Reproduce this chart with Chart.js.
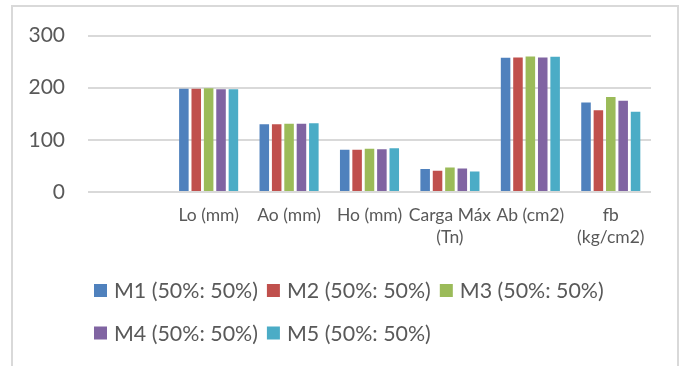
<!DOCTYPE html>
<html>
<head>
<meta charset="utf-8">
<script src="https://cdn.jsdelivr.net/npm/chart.js@4.4.1/dist/chart.umd.min.js"></script>
<style>
html,body{margin:0;padding:0;background:#ffffff;}
#wrap{width:682px;height:366px;position:relative;overflow:hidden;}
</style>
</head>
<body>
<div id="wrap"><canvas id="c" width="682" height="366"></canvas></div>
<script>
// ---- data ----
const categories = ["", "Lo (mm)", "Ao (mm)", "Ho (mm)", ["Carga Máx", "(Tn)"], "Ab (cm2)", ["fb", "(kg/cm2)"]];
const seriesNames = ["M1 (50%: 50%)", "M2 (50%: 50%)", "M3 (50%: 50%)", "M4 (50%: 50%)", "M5 (50%: 50%)"];
const m1 = [null, 198, 130, 81, 44, 257.5, 171.5];
const m2 = [null, 198, 130, 81, 41, 258, 157];
const m3 = [null, 199, 131, 83, 47, 260, 182];
const m4 = [null, 197, 131, 82, 45, 258, 175];
const m5 = [null, 197, 132, 84, 39.5, 259.5, 154];
const yTicks = [0, 100, 200, 300];

const colors = ["#4F81BD", "#C0504D", "#9BBB59", "#8064A2", "#4BACC6"];
const seriesValues = [m1, m2, m3, m4, m5];
const FONT = "Lato, 'Open Sans', sans-serif";
const TEXT = "#595959";

const borderPlugin = {
  id: "frame",
  beforeDraw(chart) {
    const ctx = chart.ctx;
    ctx.save();
    ctx.fillStyle = "#ffffff";
    ctx.fillRect(0, 0, chart.width, chart.height);
    ctx.strokeStyle = "#D9D9D9";
    ctx.lineWidth = 2;
    ctx.strokeRect(12, 6, 666, 400);
    ctx.restore();
  }
};

const legendPlugin = {
  id: "excelLegend",
  afterDraw(chart) {
    const ctx = chart.ctx;
    ctx.save();
    ctx.font = "21.4px " + FONT;
    ctx.textBaseline = "middle";
    ctx.textAlign = "left";
    const startX = 94, rowY = [290.5, 333], perRow = 3;
    let x = startX, row = 0;
    chart.data.datasets.forEach((ds, i) => {
      if (i > 0 && i % perRow === 0) { row++; x = startX; }
      const cy = rowY[row];
      ctx.fillStyle = ds.backgroundColor;
      ctx.fillRect(x, cy - 6.5, 13, 13);
      ctx.fillStyle = TEXT;
      ctx.fillText(ds.label, x + 20, cy + 1);
      x += 20 + ctx.measureText(ds.label).width + 9;
    });
    ctx.restore();
  }
};

new Chart(document.getElementById("c"), {
  type: "bar",
  data: {
    labels: categories,
    datasets: seriesValues.map((v, i) => ({
      label: seriesNames[i],
      data: v,
      backgroundColor: colors[i],
      borderWidth: 0,
      categoryPercentage: 0.77,
      barPercentage: 0.77
    }))
  },
  options: {
    responsive: false,
    animation: false,
    events: [],
    layout: { padding: { left: 0, right: 31, top: 35, bottom: 114 } },
    plugins: {
      legend: { display: false },
      tooltip: { enabled: false },
      title: { display: false }
    },
    scales: {
      x: {
        grid: { display: false, drawTicks: false },
        border: { display: false },
        ticks: {
          color: TEXT,
          font: { family: FONT, size: 17.5, lineHeight: 1.27 },
          padding: 12,
          maxRotation: 0,
          minRotation: 0,
          autoSkip: false
        },
        afterFit(scale) { scale.height = 60; }
      },
      y: {
        min: 0,
        max: 300,
        afterBuildTicks(scale) { scale.ticks = yTicks.map(v => ({ value: v })); },
        grid: { color: "#D9D9D9", lineWidth: 2, drawTicks: false },
        border: { display: false },
        ticks: {
          color: TEXT,
          font: { family: FONT, size: 21 },
          padding: 23
        },
        afterFit(scale) { scale.width = 88; }
      }
    }
  },
  plugins: [borderPlugin, legendPlugin]
});
</script>
</body>
</html>
